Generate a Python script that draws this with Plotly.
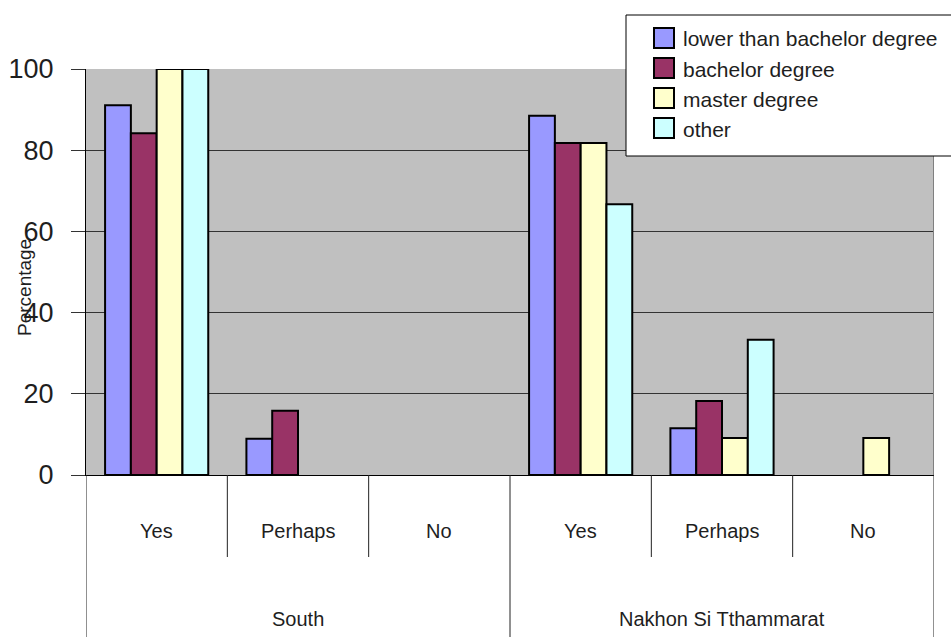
import plotly.graph_objects as go

# Survey answers by education level, grouped by region
regions = ["South", "Nakhon Si Tthammarat"]
answers = ["Yes", "Perhaps", "No"]

series_names = ["lower than bachelor degree", "bachelor degree", "master degree", "other"]
series_colors = ["#9999FF", "#993366", "#FFFFCC", "#CCFFFF"]

# Percentages, ordered South (Yes, Perhaps, No) then Nakhon Si Tthammarat (Yes, Perhaps, No)
lower_than_bachelor = [91.1, 8.9, 0, 88.5, 11.5, 0]
bachelor = [84.2, 15.8, 0, 81.8, 18.2, 0]
master = [100, 0, 0, 81.8, 9.1, 9.1]
other = [100, 0, 0, 66.7, 33.3, 0]

y_ticks = [0, 20, 40, 60, 80, 100]

values = [lower_than_bachelor, bachelor, master, other]
categories = [(r, a) for r in regions for a in answers]
xpos = list(range(len(categories)))

FONT = "Liberation Sans, Arial, sans-serif"
TEXT = "#1e1e1e"

fig = go.Figure()
for name, color, vals in zip(series_names, series_colors, values):
    fig.add_trace(go.Bar(
        x=xpos, y=vals, name=name,
        marker=dict(color=color,
                    line=dict(color="black", width=[2 if v > 0 else 0 for v in vals])),
        showlegend=False,
    ))

plot_h = 637 - 69 - 162  # height of plotting area in px
plot_w = 951 - 86 - 17   # width of plotting area in px
shapes = []
annotations = []

# Category dividers below the axis: short between answers, long between regions
n_ans = len(answers)
for i in range(len(categories) + 1):
    edge = i - 0.5
    is_outer = (i % n_ans == 0)
    depth = 162 if is_outer else 82
    shapes.append(dict(type="line", xref="x", yref="paper",
                       x0=edge, x1=edge, y0=0, y1=-depth / plot_h,
                       line=dict(color="#222", width=1)))

# Right border of the plotting area
shapes.append(dict(type="line", xref="x", yref="paper", x0=len(categories) - 0.5,
                   x1=len(categories) - 0.5, y0=0, y1=1,
                   line=dict(color="#808080", width=2)))

# Answer labels
for i, (r, a) in enumerate(categories):
    annotations.append(dict(x=i, y=0, xref="x", yref="paper", yshift=-56,
                            text=a, showarrow=False, yanchor="middle",
                            font=dict(family=FONT, size=20, color=TEXT)))
# Region labels
for j, r in enumerate(regions):
    center = j * n_ans + (n_ans - 1) / 2
    annotations.append(dict(x=center, y=0, xref="x", yref="paper", yshift=-144,
                            text=r, showarrow=False, yanchor="middle",
                            font=dict(family=FONT, size=20, color=TEXT)))

# Y axis title
annotations.append(dict(x=0, y=0.5, xref="paper", yref="paper", xshift=-62, yshift=-16,
                        text="Percentage", textangle=-90, showarrow=False,
                        xanchor="center", yanchor="middle",
                        font=dict(family=FONT, size=19, color=TEXT)))

# Legend box
def px_x(px):
    return (px - 86) / plot_w
def px_y(py):
    return (475 - py) / plot_h

shapes.append(dict(type="rect", xref="paper", yref="paper",
                   x0=px_x(626), x1=px_x(960), y0=px_y(156), y1=px_y(15),
                   fillcolor="white", line=dict(color="black", width=1), layer="above"))
for k, (name, color) in enumerate(zip(series_names, series_colors)):
    cy = 38 + 30 * k
    shapes.append(dict(type="rect", xref="paper", yref="paper",
                       x0=px_x(654), x1=px_x(674), y0=px_y(cy + 10), y1=px_y(cy - 10),
                       fillcolor=color, line=dict(color="black", width=2), layer="above"))
    annotations.append(dict(x=px_x(681), y=px_y(cy + 1), xref="paper", yref="paper",
                            text=name, showarrow=False, xanchor="left", yanchor="middle",
                            font=dict(family=FONT, size=21, color=TEXT)))

fig.update_layout(
    width=951, height=637,
    margin=dict(l=86, r=17, t=69, b=162, pad=0, autoexpand=False),
    paper_bgcolor="white", plot_bgcolor="#C0C0C0",
    barmode="group", bargap=0.27, bargroupgap=0,
    font=dict(family=FONT, color=TEXT),
    shapes=shapes, annotations=annotations,
    xaxis=dict(range=[-0.5, len(categories) - 0.5], showticklabels=False,
               showgrid=False, zeroline=False, showline=True, automargin=False,
               linecolor="black", linewidth=1, ticks=""),
    yaxis=dict(range=[0, 100], tickvals=y_ticks, showgrid=True, automargin=False,
               gridcolor="#333", gridwidth=1, zeroline=False,
               showline=True, linecolor="black", linewidth=1,
               ticks="outside", ticklen=14, tickcolor="#333",
               ticklabelstandoff=12,
               tickfont=dict(family=FONT, size=27, color=TEXT)),
)

fig.write_html("out.html")
